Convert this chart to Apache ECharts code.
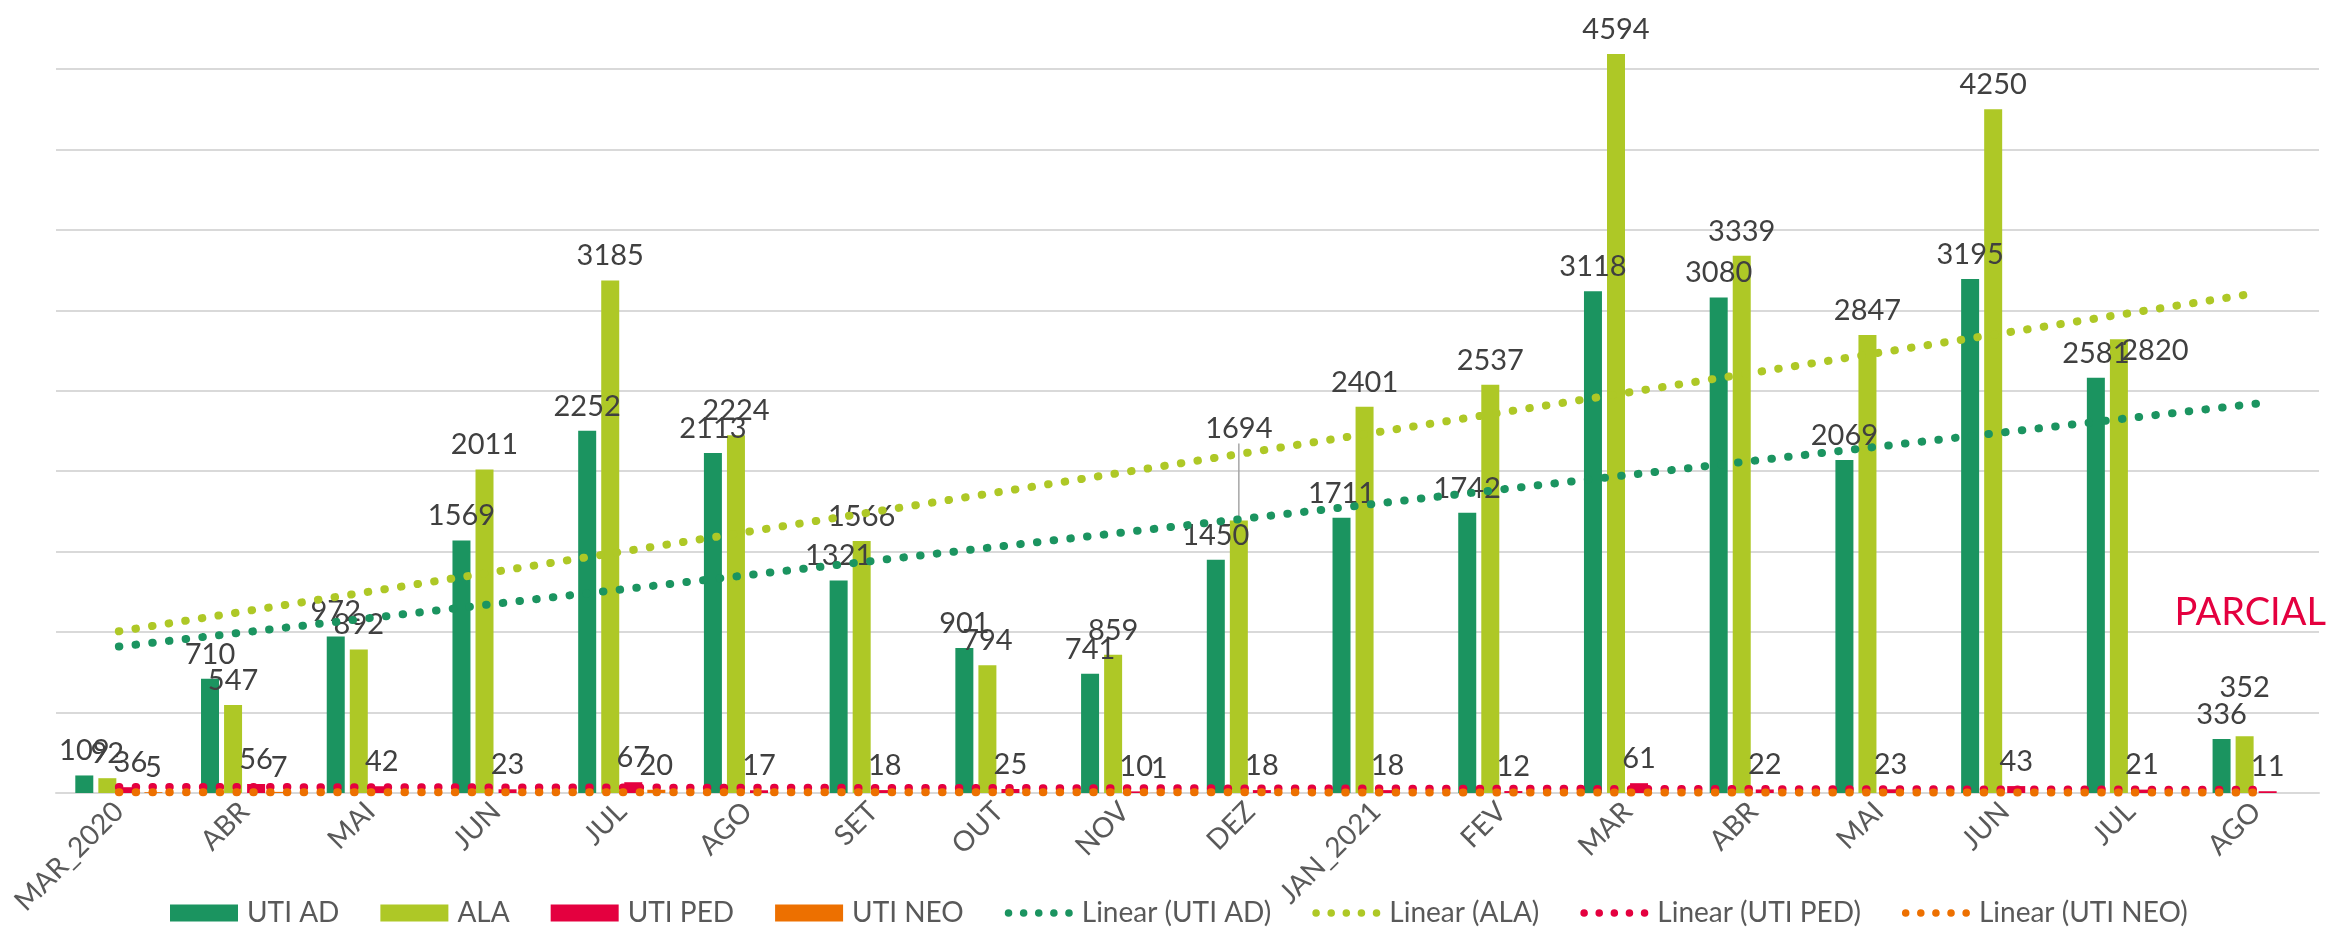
<!DOCTYPE html>
<html>
<head>
<meta charset="utf-8">
<script src="https://cdn.jsdelivr.net/npm/echarts@6/dist/echarts.min.js"></script>
<style>
html,body{margin:0;padding:0;background:#fff;}
#chart{width:2331px;height:936px;}
</style>
</head>
<body>
<div id="chart"></div>
<script>
const categories = ['MAR_2020','ABR','MAI','JUN','JUL','AGO','SET','OUT','NOV','DEZ','JAN_2021','FEV','MAR','ABR','MAI','JUN','JUL','AGO'];
const utiAd  = [109, 710, 972, 1569, 2252, 2113, 1321, 901, 741, 1450, 1711, 1742, 3118, 3080, 2069, 3195, 2581, 336];
const ala    = [92, 547, 892, 2011, 3185, 2224, 1566, 794, 859, 1694, 2401, 2537, 4594, 3339, 2847, 4250, 2820, 352];
const utiPed = [36, 56, 42, 23, 67, 17, 18, 25, 10, 18, 18, 12, 61, 22, 23, 43, 21, 11];
const utiNeo = [5, 7, null, null, 20, null, null, null, 1, null, null, null, null, null, null, null, null, null];
// trend line end points (first and last category)
const trendAd  = [910, 2420];
const trendAla = [1005, 3107];
const trendPed = [38, 20];
const trendNeo = [5, 3];

const FONT = 'Lato';
const colors = {ad:'#1B9460', ala:'#AEC826', ped:'#E4003F', neo:'#ED7000'};
const last = categories.length - 1;
// manually moved labels in the original (pixel nudges, by data index)
const labelMoves = {
  'ALA': {9: [0, -67], 16: [36, 36], 17: [0, -24]}
};
const dotsIcon = 'path://' + [0, 16, 32, 48, 64].map(function (x) {
  return 'M' + x + ',4a4,4 0 1,0 8,0a4,4 0 1,0 -8,0z';
}).join('');

function barSeries(name, values, color) {
  const moves = labelMoves[name] || {};
  return {
    name: name, type: 'bar', clip: false,
    data: values.map(function (v, i) {
      return i === 9 && moves[i] ? {value: v, labelLine: {show: true}} : v;
    }),
    barWidth: 18, barGap: '28%',
    itemStyle: {color: color},
    label: {show: true, position: 'top', distance: 10, color: '#404040',
            fontFamily: FONT, fontSize: 29},
    labelLine: {show: false, lineStyle: {color: '#A6A6A6', width: 1.5}},
    labelLayout: function (p) {
      const m = moves[p.dataIndex];
      return m ? {dx: m[0], dy: m[1]} : {};
    },
    z: 2
  };
}
function trendSeries(name, ends, color) {
  return {
    name: name, type: 'line', data: [[0, ends[0]], [last, ends[1]]],
    symbol: 'none', silent: true,
    lineStyle: {color: color, width: 8, type: [0.5, 16.3], cap: 'round'},
    itemStyle: {color: color},
    z: 5
  };
}

const chart = echarts.init(document.getElementById('chart'), null, {renderer: 'canvas'});
chart.setOption({
  animation: false,
  backgroundColor: '#fff',
  grid: {left: 56, right: 12, top: 69, bottom: 143, containLabel: false, outerBoundsMode: 'none'},
  xAxis: {
    type: 'category', data: categories, boundaryGap: true,
    axisLine: {show: true, lineStyle: {color: '#D9D9D9', width: 2}},
    axisTick: {show: false},
    axisLabel: {rotate: 45, margin: 14, color: '#595959', fontFamily: FONT, fontSize: 28, interval: 0}
  },
  yAxis: {
    type: 'value', min: 0, max: 4500, interval: 500,
    axisLine: {show: false}, axisTick: {show: false}, axisLabel: {show: false},
    splitLine: {lineStyle: {color: '#D9D9D9', width: 2}}
  },
  legend: {
    left: 165, top: 892, itemGap: 41, itemWidth: 68, itemHeight: 17,
    symbolKeepAspect: true,
    textStyle: {color: '#595959', fontFamily: FONT, fontSize: 28, padding: [0, 0, 0, 4], lineHeight: 32},
    data: [
      {name: 'UTI AD', icon: 'rect'}, {name: 'ALA', icon: 'rect'},
      {name: 'UTI PED', icon: 'rect'}, {name: 'UTI NEO', icon: 'rect'},
      {name: 'Linear (UTI AD)', icon: dotsIcon},
      {name: 'Linear (ALA)', icon: dotsIcon},
      {name: 'Linear (UTI PED)', icon: dotsIcon},
      {name: 'Linear (UTI NEO)', icon: dotsIcon}
    ]
  },
  graphic: [{
    type: 'text', right: 5, top: 594,
    style: {text: 'PARCIAL', fill: '#E4003F', font: '38px ' + FONT}
  }],
  series: [
    barSeries('UTI AD', utiAd, colors.ad),
    barSeries('ALA', ala, colors.ala),
    barSeries('UTI PED', utiPed, colors.ped),
    barSeries('UTI NEO', utiNeo, colors.neo),
    trendSeries('Linear (UTI AD)', trendAd, colors.ad),
    trendSeries('Linear (ALA)', trendAla, colors.ala),
    trendSeries('Linear (UTI PED)', trendPed, colors.ped),
    trendSeries('Linear (UTI NEO)', trendNeo, colors.neo)
  ]
});
</script>
</body>
</html>
